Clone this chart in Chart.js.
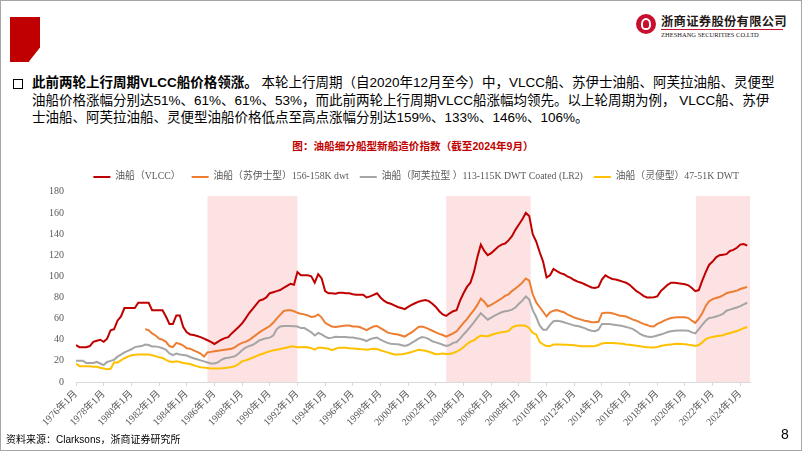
<!DOCTYPE html>
<html>
<head>
<meta charset="utf-8">
<script src="https://cdn.jsdelivr.net/npm/chart.js@4.4.1/dist/chart.umd.min.js"></script>
<style>
  body { margin: 0; background: #fff; }
  #slide { position: relative; width: 802px; height: 451px; overflow: hidden; background: #fff;
           font-family: "Liberation Sans", "Noto Sans CJK SC", sans-serif; color: #000; }
  #frame { position: absolute; left: 0; top: 0; right: 0; bottom: 0; border: 1px solid #a6a6a6; pointer-events: none; }
  #redblock { position: absolute; left: 10px; top: 17px; width: 30px; height: 45px; background: #c00000;
              clip-path: polygon(0 0, 100% 0, 100% 68%, 62% 100%, 0 100%); }
  #logo-icon { position: absolute; left: 636px; top: 14px; width: 20px; height: 20px; border-radius: 50%; background: #c8102e; }
  #logo-icon:after { content: ""; position: absolute; left: 5px; top: 4px; width: 10px; height: 12px; border: 2px solid #fff;
                     border-radius: 50% 50% 40% 40%; box-sizing: border-box; }
  #logo-cn { position: absolute; left: 661px; top: 12px; font-size: 12.3px; font-weight: bold; color: #231815; white-space: nowrap; letter-spacing: 0.3px; }
  #logo-line { position: absolute; left: 661px; top: 29px; width: 122px; height: 1px; background: #c8102e; }
  #logo-en { position: absolute; left: 661px; top: 31px; font-family: "Liberation Serif", serif; font-size: 6.5px; color: #231815; white-space: nowrap; }
  #bullet { position: absolute; left: 13px; top: 79px; width: 8px; height: 8px; border: 1.5px solid #000; }
  #para { position: absolute; left: 32px; top: 74px; font-size: 13.5px; line-height: 17.5px; white-space: nowrap; }
  #para b { font-weight: bold; }
  #title { position: absolute; left: 0; width: 826px; top: 138px; text-align: center; font-size: 10.6px; font-weight: bold; color: #c00000; }
  #source { position: absolute; left: 6px; top: 431px; font-size: 10px; white-space: nowrap; }
  #page { position: absolute; left: 781px; top: 426px; font-size: 14px; }
  #wrap { position: absolute; left: 20px; top: 161px; width: 802px; height: 271px; }
</style>
</head>
<body>
<div id="slide">
  <div id="redblock"></div>
  <div id="logo-icon"></div>
  <div id="logo-cn">浙商证券股份有限公司</div>
  <div id="logo-line"></div>
  <div id="logo-en">ZHESHANG SECURITIES CO.LTD</div>
  <div id="bullet"></div>
  <div id="para"><b>此前两轮上行周期VLCC船价格领涨。</b> 本轮上行周期（自2020年12月至今）中，VLCC船、苏伊士油船、阿芙拉油船、灵便型<br>油船价格涨幅分别达51%、61%、61%、53%，而此前两轮上行周期VLCC船涨幅均领先。以上轮周期为例， VLCC船、苏伊<br>士油船、阿芙拉油船、灵便型油船价格低点至高点涨幅分别达159%、133%、146%、106%。</div>
  <div id="title">图：油船细分船型新船造价指数（截至2024年9月）</div>
  <div id="wrap"><canvas id="chart"></canvas></div>
  <div id="source">资料来源：Clarksons，浙商证券研究所</div>
  <div id="page">8</div>
  <div id="frame"></div>
</div>
<script>
// quarterly readings (Jan/Apr/Jul/Oct), 1976年1月 .. 2024年7月
const startYear = 1976;
const seriesNames = ['油船（VLCC）', '油船（苏伊士型）156-158K dwt', '油船（阿芙拉型 ）113-115K DWT Coated (LR2)', '油船（灵便型）47-51K DWT'];
const seriesColors = ['#c00000', '#ed7d31', '#a5a5a5', '#ffc000'];

const vlcc = [
  35, 33, 33, 33,  34, 38, 39, 40,  38, 41, 49, 50,  58, 62, 70, 70,  70, 70, 75, 75,        // 1976-80
  75, 75, 68, 68,  68, 68, 62, 55,  55, 63, 63, 52,  47, 45, 44.5, 43.5,  42.5, 41, 39.5, 38, // 1981-85
  36, 38, 40, 41.5,  42.5, 46, 49, 52,  55.5, 60, 65, 69,  73, 77, 78, 80,  84, 85, 86, 87,  // 1986-90
  89, 91, 93, 92,  104, 101, 101, 101,  100, 94, 102, 98,  86, 84, 84, 83.5,  84.5, 84.5, 84, 84, // 1991-95
  83, 82.5, 82.5, 82.5,  80, 81, 82.5, 84,  80, 77, 75, 74,  72.5, 71, 70, 69,  71, 73, 74.5, 76, // 1996-2000
  77, 77.5, 76.5, 74,  71, 67, 64, 62.5,  65, 67, 68, 77,  84, 90, 94, 104,  118, 130, 124, 120, // 2001-05
  122, 125, 128, 130,  131, 134, 138, 144,  149, 154, 160, 157,  140, 133, 123, 114,  99, 101, 107, 105, // 2006-10
  103, 102, 100, 98.5,  96.5, 95, 94, 92.5,  91, 89.5, 89, 90,  97, 101, 99, 97.5,  97, 96, 95, 94, // 2011-15
  92, 89, 86, 84,  81.5, 80, 80, 80.3,  81, 86, 89, 92,  94, 94, 93.5, 93,  92.5, 91.5, 89, 86, // 2016-20
  87, 96, 104, 111,  114, 118, 120, 120.5,  121, 124, 125, 127,  130, 130.5, 129              // 2021-24
];
const suezmax = [
  null, null, null, null,  null, null, null, null,  null, null, null, null,  null, null, null, null,  null, null, null, null,
  50, 49, 46, 44,  41, 40, 38, 34,  33, 37, 36, 34.5,  32, 31.5, 30, 28.5,  27, 24, 28, 28.5,
  29, 29.5, 30, 30.5,  31, 31.5, 33, 35.5,  37, 38, 39.5, 42,  44.5, 47, 49, 51,  53, 56, 60, 63.5,
  67, 68, 68, 67,  65.5, 64.5, 64, 63,  61.5, 62, 64, 61,  56, 54, 52.5, 52,  52.5, 53, 53.5, 53.5,
  52.5, 52.5, 52, 50.5,  49, 51, 52.5, 53,  51, 49, 47, 46,  45.5, 45, 44, 43,  45, 47, 49.5, 52,
  52.5, 51.5, 50, 48.5,  47, 45.5, 44.5, 43,  44.5, 46, 48, 52,  56, 59.5, 64, 68,  73, 79, 76, 71.5,
  73, 75, 77, 79,  81.5, 83, 86, 88.5,  91, 94, 98, 96,  83, 75.5, 71, 66.5,  62, 66, 67.5, 68,
  67, 66, 64, 62.5,  61, 60, 59, 58,  57.5, 56.5, 56.5, 57,  65, 65.5, 65.5, 65,  64, 63, 62.5, 62,
  60.5, 59, 58, 56.5,  55, 54, 52.7, 52.5,  55, 56.5, 58, 59.5,  60.6, 61, 61.2, 61.2,  61.2, 60.5, 58, 56,
  60, 65, 72, 76.5,  78.5, 79.5, 80.5, 82,  84, 85, 85.6, 86.5,  88, 89, 90
];
const aframax = [
  20, 20, 20, 18,  18, 18, 19, 17.5,  16, 19, 20, 21,  24, 26, 28, 29.5,  31, 33, 33.5, 34,
  35.5, 35, 33.7, 33.7,  33, 32, 30.5, 27,  25.5, 27, 26, 25.5,  25, 23.7, 22.5, 21.5,  20.5, 19.5, 18.5, 17.5,
  17.5, 18.5, 21, 22.5,  23, 23.7, 24.5, 27,  30, 32.5, 34, 35,  37, 39.4, 40.5, 41.5,  42, 44, 50, 52.5,
  53, 53, 53, 52.8,  52.5, 51, 51, 49,  47, 44, 46.5, 45,  43, 41.5, 42, 42.8,  42.5, 42.5, 42.5, 42.2,
  42, 41.5, 41, 40,  38.75, 40.5, 41.5, 42,  40, 38.5, 37, 36.3,  36, 35.8, 35, 34,  35, 37, 39, 41,
  42.5, 42, 40.5, 38.5,  37.5, 36.5, 35.3, 34.2,  35, 37, 37.8, 41,  45, 48.5, 52.5, 56.5,  61, 65, 62, 59,
  61, 62.8, 64.5, 66,  67, 67.5, 68.5, 70.5,  74, 77, 81, 78,  68, 61.5, 53.5, 49.5,  49.5, 54, 57.5, 58,
  57.5, 56.5, 55.5, 54.5,  53.4, 53, 52, 51,  49.5, 48.5, 48, 49.5,  55, 55, 55, 54.5,  54, 53.5, 53, 52,
  51.25, 50, 48, 45.5,  44, 43, 42.6, 43,  44, 45, 46, 47.3,  48, 48.4, 48.75, 48.75,  48.75, 48.5, 47, 46,
  50, 54, 58, 60.5,  61, 62, 63, 64.5,  67.5, 68.5, 69.5, 70.5,  71.8, 73.5, 75
];
const handy = [
  17.5, 15, 15, 15,  15, 14.5, 14.4, 13.5,  12.8, 12, 12.5, 18.5,  18.5, 20.5, 22.5, 24,  25.3, 25.8, 26, 26,
  26, 26, 25.3, 24.5,  23.5, 22.8, 21, 19.3,  19, 19.7, 19, 18,  17.5, 17, 15.8, 14.8,  14, 13.6, 13.2, 12.8,
  12.8, 12.8, 13, 13.3,  13.75, 14.2, 15, 17,  19.5, 20.5, 21.5, 23,  24.2, 25.8, 26.8, 28,  29, 30, 30.6, 31.2,
  32, 32.6, 33.5, 33.5,  33, 33, 33.2, 32.8,  32, 30.6, 32.5, 32.5,  32, 31.5, 30.2, 31.5,  32.5, 32.5, 32.3, 32,
  31.8, 31.5, 31.2, 31,  30.6, 31, 31.5, 31.2,  30, 29, 28, 27,  26, 26, 26.2, 26.8,  27.5, 28.4, 29.5, 30.5,
  30, 29.5, 28.6, 27.5,  26.3, 26.5, 26.9, 26.5,  26.5, 27.5, 28.8, 30.5,  33, 36, 38.2, 39.5,  42, 44, 43.5, 43.3,
  44.5, 45.6, 46.5, 47,  47.5, 48.2, 51.5, 53,  53.4, 53.4, 53.2, 51,  46.5, 45, 38, 35.5,  34, 34, 35.5, 35.5,
  35.4, 35.3, 35.2, 35,  34.7, 34.3, 33.75, 33.75,  33.75, 33.75, 34, 35,  36.5, 36.9, 36.9, 36.9,  36.7, 36.5, 36.2, 35.5,
  35.2, 34.7, 34.2, 33.75,  33.3, 33, 32.6, 32.7,  33.1, 34, 34.7, 35.2,  35.6, 36, 36.25, 36,  35.8, 35.2, 34.7, 34,
  35, 37.5, 40.5, 42,  42.5, 43.2, 43.8, 44.3,  45.4, 46.4, 47.3, 48.3,  49.5, 51, 52
];

// upturn periods shaded in the source (decimal years)
const shadeStart = [1985.5, 2002.75, 2020.8];
const shadeEnd = [1992.0, 2008.85, 2024.7];
const shadeTop = 176;

const yTicks = [0, 20, 40, 60, 80, 100, 120, 140, 160, 180];
const xTickYears = [];
for (let y = 1976; y <= 2024; y += 2) xTickYears.push(y);

const toPoints = arr => arr.map((v, i) => ({ x: startYear + i / 4, y: v }));
const allSeries = [vlcc, suezmax, aframax, handy];

const shadePlugin = {
  id: 'shade',
  beforeDatasetsDraw(chart) {
    const { ctx, chartArea, scales: { x, y } } = chart;
    ctx.save();
    ctx.beginPath();
    ctx.rect(chartArea.left, chartArea.top, chartArea.width, chartArea.height);
    ctx.clip();
    ctx.fillStyle = '#fce2e2';
    shadeStart.forEach((s, i) => {
      const x0 = x.getPixelForValue(s), x1 = x.getPixelForValue(shadeEnd[i]);
      const yt = y.getPixelForValue(shadeTop), yb = y.getPixelForValue(0);
      ctx.fillRect(x0, yt, x1 - x0, yb - yt);
    });
    ctx.restore();
  },
  beforeLayout(chart) {
    if (chart.legend) chart.legend.afterFit = function () { this.height = 29; };
  }
};

const serif = '"Liberation Serif", "Noto Sans CJK SC", serif';

new Chart(document.getElementById('chart'), {
  type: 'line',
  data: {
    datasets: allSeries.map((arr, i) => ({
      label: seriesNames[i],
      data: toPoints(arr),
      borderColor: seriesColors[i],
      backgroundColor: seriesColors[i],
      borderWidth: 2,
      pointRadius: 0,
      tension: 0,
      spanGaps: false
    }))
  },
  options: {
    responsive: true,
    maintainAspectRatio: false,
    animation: false,
    layout: { padding: { left: 0, right: 72, top: 0, bottom: 0 } },
    plugins: {
      tooltip: { enabled: false },
      legend: {
        position: 'top',
        align: 'end',
        labels: {
          boxWidth: 17,
          boxHeight: 2,
          padding: 11,
          color: '#595959',
          font: { family: serif, size: 9.8 },
          generateLabels(chart) {
            return Chart.defaults.plugins.legend.labels.generateLabels(chart).map(l => ({ ...l, lineWidth: 0 }));
          }
        }
      }
    },
    scales: {
      x: {
        type: 'linear',
        min: 1976,
        max: 2024.7,
        afterBuildTicks: s => { s.ticks = xTickYears.map(v => ({ value: v })); },
        afterFit: s => { s.height = 50; },
        border: { display: true, color: '#d9d9d9' },
        grid: { display: true, drawOnChartArea: false, drawTicks: true, tickLength: 4, color: '#d9d9d9' },
        ticks: {
          autoSkip: false, minRotation: 45, maxRotation: 45, padding: 2,
          color: '#595959', font: { family: serif, size: 10 },
          callback: v => v + '年1月'
        }
      },
      y: {
        min: 0,
        max: 180,
        afterBuildTicks: s => { s.ticks = yTicks.map(v => ({ value: v })); },
        afterFit: s => { s.width = 56; },
        border: { display: false },
        grid: { display: false, drawTicks: false },
        ticks: { padding: 12, color: '#595959', font: { family: serif, size: 10 } }
      }
    }
  },
  plugins: [shadePlugin]
});
</script>
</body>
</html>
